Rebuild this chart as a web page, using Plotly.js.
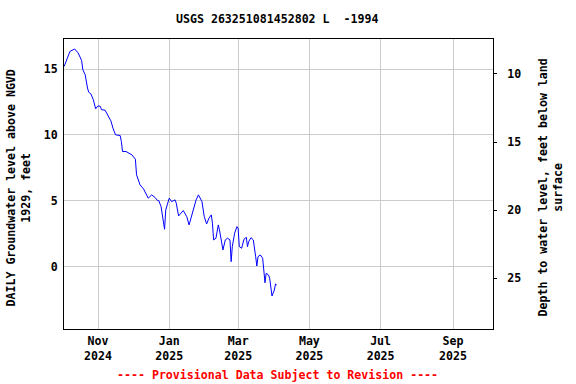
<!DOCTYPE html>
<html>
<head>
<meta charset="utf-8">
<script src="https://cdn.plot.ly/plotly-3.0.1.min.js"></script>
<style>html,body{margin:0;padding:0;background:#fff;}#chart{width:576px;height:384px;}</style>
</head>
<body>
<div id="chart"></div>
<script>
// Daily groundwater level (feet above NGVD 1929)
const dates = [
  '2024-10-03','2024-10-05','2024-10-08','2024-10-12','2024-10-15','2024-10-17','2024-10-18','2024-10-19',
  '2024-10-21','2024-10-23','2024-10-24','2024-10-26','2024-10-28','2024-10-30','2024-11-01','2024-11-03',
  '2024-11-04','2024-11-07','2024-11-10','2024-11-12','2024-11-14','2024-11-16','2024-11-20','2024-11-21',
  '2024-11-22','2024-11-25','2024-11-30','2024-12-03','2024-12-04','2024-12-07','2024-12-10','2024-12-14',
  '2024-12-17','2024-12-20','2024-12-22','2024-12-23','2024-12-25','2024-12-27','2024-12-28','2024-12-29',
  '2025-01-01','2025-01-03','2025-01-06','2025-01-07','2025-01-09','2025-01-13','2025-01-16','2025-01-18',
  '2025-01-20','2025-01-22','2025-01-24','2025-01-26','2025-01-29','2025-01-31','2025-02-02','2025-02-04',
  '2025-02-06','2025-02-07','2025-02-08','2025-02-10','2025-02-12','2025-02-13','2025-02-15','2025-02-16',
  '2025-02-18','2025-02-20','2025-02-22','2025-02-23','2025-02-24','2025-02-26','2025-02-28','2025-03-01',
  '2025-03-02','2025-03-04','2025-03-06','2025-03-08','2025-03-09','2025-03-10','2025-03-12','2025-03-14',
  '2025-03-16','2025-03-17','2025-03-18','2025-03-20','2025-03-22','2025-03-23','2025-03-24','2025-03-25',
  '2025-03-27','2025-03-28','2025-03-30','2025-04-01','2025-04-02','2025-04-03'
];
const levels = [
  15.20,15.71,16.34,16.52,16.22,15.84,15.63,14.95,
  14.57,13.56,13.25,13.10,12.67,11.98,12.21,12.16,
  11.91,11.88,11.40,11.07,10.46,10.01,9.95,9.50,
  8.74,8.74,8.49,8.16,6.97,6.21,5.90,5.20,
  5.45,5.24,5.02,5.02,4.56,3.55,2.84,4.31,
  5.20,4.94,5.07,4.82,3.85,4.26,3.80,3.17,
  3.80,4.36,5.07,5.45,4.94,3.80,3.24,3.68,
  3.93,3.30,2.03,2.16,3.17,2.79,1.65,1.27,
  2.03,2.16,2.03,0.38,1.52,2.54,3.04,2.92,
  1.52,1.40,2.08,2.23,1.52,1.90,2.20,2.03,
  0.76,0.05,0.76,0.89,0.64,-0.38,-1.22,-0.50,
  -0.63,-0.88,-2.23,-1.77,-1.31,-1.39
];

const xTickVals = ['2024-11-01','2025-01-01','2025-03-01','2025-05-01','2025-07-01','2025-09-01'];
const xTickText = ['Nov<br>2024','Jan<br>2025','Mar<br>2025','May<br>2025','Jul<br>2025','Sep<br>2025'];
const yTickVals = [0, 5, 10, 15];
const y2TickVals = [10, 15, 20, 25];

const titleText = 'USGS 263251081452802 L  -1994';
const leftTitle = 'DAILY Groundwater level above NGVD<br>1929, feet';
const rightTitle = 'Depth to water level, feet below land<br>surface';
const footerText = '---- Provisional Data Subject to Revision ----';

const FONT = {family: 'DejaVu Sans Mono, monospace', size: 11.6, color: '#000', weight: 'bold'};

const traces = [
  {x: dates, y: levels, type: 'scatter', mode: 'lines',
   line: {color: '#0000ff', width: 1}, hoverinfo: 'skip', showlegend: false},
  {x: [], y: [], yaxis: 'y2', type: 'scatter', mode: 'lines', showlegend: false}
];

const layout = {
  width: 576, height: 384,
  margin: {l: 64, r: 83, t: 39, b: 55, pad: 0},
  paper_bgcolor: '#fff', plot_bgcolor: '#fff',
  font: FONT,
  showlegend: false,
  title: {text: titleText, font: FONT, x: 0.497, xref: 'paper', xanchor: 'center',
          y: 1 - 19/384, yref: 'container', yanchor: 'middle'},
  xaxis: {
    type: 'date', range: ['2024-10-02 21:00', '2025-10-05 06:00'],
    tickmode: 'array', tickvals: xTickVals, ticktext: xTickText,
    showgrid: true, gridcolor: '#cccccc', gridwidth: 1,
    showline: true, linecolor: '#000', linewidth: 1, mirror: true,
    ticks: '', tickfont: FONT, ticklabelstandoff: 1, zeroline: false, fixedrange: true
  },
  yaxis: {
    range: [-4.73, 17.28], tickmode: 'array', tickvals: yTickVals,
    showgrid: true, gridcolor: '#cccccc', gridwidth: 1,
    showline: true, linecolor: '#000', linewidth: 1, mirror: true,
    ticks: '', tickfont: FONT, ticklabelstandoff: 3, zeroline: false, fixedrange: true
  },
  yaxis2: {
    overlaying: 'y', side: 'right', range: [28.73, 7.43],
    tickmode: 'array', tickvals: y2TickVals,
    showgrid: false, zeroline: false, showline: true, linecolor: '#000', linewidth: 1,
    ticks: 'outside', ticklen: 3, tickcolor: '#000', tickfont: FONT, ticklabelstandoff: 8,
    fixedrange: true
  },
  annotations: [
    {text: leftTitle, xref: 'paper', yref: 'paper', x: (17.5 - 64) / 429, y: (329 - 188) / 290,
     xanchor: 'center', yanchor: 'middle', textangle: -90, showarrow: false, font: FONT},
    {text: rightTitle, xref: 'paper', yref: 'paper', x: (549.5 - 64) / 429, y: (329 - 188) / 290,
     xanchor: 'center', yanchor: 'middle', textangle: -90, showarrow: false, font: FONT},
    {text: footerText, xref: 'paper', yref: 'paper', x: (277.5 - 64) / 429, y: (329 - 375) / 290,
     xanchor: 'center', yanchor: 'middle', showarrow: false,
     font: {family: FONT.family, size: FONT.size, color: '#ff0000', weight: 'bold'}}
  ]
};

Plotly.newPlot('chart', traces, layout, {staticPlot: true, displayModeBar: false});
</script>
</body>
</html>
